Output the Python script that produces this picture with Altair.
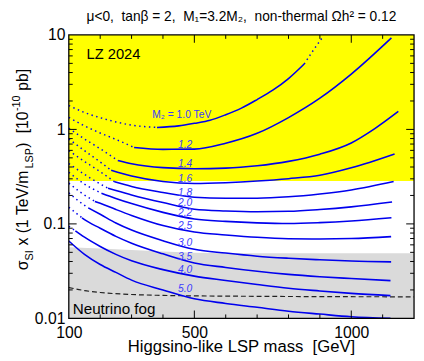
import altair as alt
import pandas as pd

FONT = "Liberation Sans"
BLUE = "#0000ee"
LABEL_BLUE = "#3a3aff"
YELLOW = "#ffff00"
GREY = "#dadada"
W, H = 352, 289

# ---------------- data ----------------
x_domain = [100, 1200]
y_domain = [0.01, 10]
x_tick_labels = [100, 500, 1000]
y_tick_labels = [0.01, 0.1, 1, 10]
x_major_ticks = [500, 1000]
x_minor_ticks = [200, 300, 400, 600, 700, 800, 900, 1100]
y_major_ticks = [0.01, 0.1, 1, 10]
y_minor_ticks = [k * 10.0 ** e for e in (-2, -1, 0) for k in range(2, 10)]

lz_floor = 0.284                      # LZ 2024 excluded above this
fog_mass = [100, 200, 300, 400, 500, 600, 1200]
fog_sigma = [0.0565, 0.055, 0.053, 0.051, 0.0495, 0.049, 0.049]
floor_mass = [100, 150, 200, 300, 400, 600, 1200]
floor_sigma = [0.0212, 0.0197, 0.0188, 0.0179, 0.0175, 0.0172, 0.0169]

m2_names = ["1.0", "1.2", "1.4", "1.6", "1.8", "2.0", "2.2", "2.5", "3.0", "3.5", "4.0", "5.0"]

dotted = {
    "1.0": [([100, 150, 200, 250, 300, 381], [1.79, 1.51, 1.33, 1.20, 1.11, 1.05]),
            ([850, 878, 907], [4.92, 6.8, 9.3])],
    "1.2": [([100, 150, 200, 250, 308], [1.34, 1.09, 0.916, 0.784, 0.644])],
    "1.4": [([100, 150, 200, 256], [1.03, 0.792, 0.624, 0.469])],
    "1.6": [([100, 150, 200, 235], [0.792, 0.596, 0.452, 0.369])],
    "1.8": [([100, 150, 200, 246], [0.596, 0.458, 0.357, 0.279])],
    "2.0": [([100, 150, 225], [0.436, 0.334, 0.238])],
    "2.2": [([100, 150, 204], [0.352, 0.264, 0.2113])],
    "2.5": [([100, 140, 183], [0.270, 0.213, 0.173])],
    "3.0": [([100, 130, 162], [0.213, 0.176, 0.1476])],
    "3.5": [([100, 142], [0.15, 0.116])],
    "4.0": [([100, 121], [0.0944, 0.0844])],
    "5.0": [],
}
solid = {
    "1.0": ([381, 450, 500, 550, 600, 650, 700, 750, 800, 850],
            [1.05, 1.09, 1.16, 1.25, 1.43, 1.68, 2.07, 2.6, 3.45, 4.92]),
    "1.2": ([308, 400, 500, 600, 700, 800, 900, 1000, 1128],
            [0.644, 0.615, 0.619, 0.714, 0.909, 1.334, 2.14, 3.85, 9.3]),
    "1.4": ([256, 300, 400, 500, 600, 700, 800, 900, 1000, 1075, 1150],
            [0.469, 0.433, 0.394, 0.384, 0.389, 0.412, 0.459, 0.547, 0.719, 1.02, 1.55]),
    "1.6": ([235, 300, 400, 500, 600, 700, 800, 900, 1000, 1138],
            [0.369, 0.321, 0.281, 0.268, 0.273, 0.284, 0.301, 0.327, 0.392, 0.55]),
    "1.8": ([246, 300, 400, 500, 600, 700, 800, 900, 1000, 1135],
            [0.279, 0.249, 0.215, 0.1914, 0.1866, 0.187, 0.1935, 0.2074, 0.2286, 0.281]),
    "2.0": ([225, 250, 300, 400, 500, 600, 700, 800, 900, 1000, 1130],
            [0.238, 0.225, 0.202, 0.168, 0.1432, 0.1371, 0.1345, 0.1358, 0.1419, 0.1514, 0.1702]),
    "2.2": ([204, 250, 300, 400, 500, 600, 700, 800, 900, 1000, 1128],
            [0.2113, 0.186, 0.164, 0.1324, 0.1127, 0.1064, 0.1026, 0.1009, 0.1031, 0.1074, 0.1161]),
    "2.5": ([183, 200, 250, 300, 400, 500, 600, 700, 800, 900, 1000, 1127],
            [0.173, 0.165, 0.142, 0.123, 0.0961, 0.0820, 0.0764, 0.0721, 0.0697, 0.0692, 0.0699, 0.0733]),
    "3.0": ([162, 200, 250, 300, 400, 500, 600, 700, 800, 900, 1000, 1127],
            [0.1476, 0.1265, 0.1023, 0.0861, 0.0664, 0.0538, 0.0491, 0.0455, 0.0433, 0.0417, 0.0404, 0.0396]),
    "3.5": ([142, 150, 200, 250, 300, 400, 500, 600, 700, 800, 900, 1000, 1125],
            [0.116, 0.111, 0.090, 0.0738, 0.0625, 0.0482, 0.0386, 0.0346, 0.0315, 0.0292, 0.0276, 0.0264, 0.0251]),
    "4.0": ([121, 150, 200, 250, 300, 400, 500, 600, 700, 800, 900, 1000, 1125],
            [0.0844, 0.0723, 0.0577, 0.0476, 0.0407, 0.0328, 0.0280, 0.0252, 0.0228, 0.0208, 0.0195, 0.0184, 0.0174]),
    "5.0": ([100, 150, 200, 250, 300, 400, 500, 600, 700, 800, 900, 1000, 1125],
            [0.0659, 0.0476, 0.0372, 0.0307, 0.0254, 0.0200, 0.0161, 0.0144, 0.0131, 0.0119, 0.0111, 0.0104, 0.0100]),
}

# label anchors (mass, sigma) of the curve labels
label_mass = [366] + [448] * 11
label_sigma = [1.31, 0.64, 0.401, 0.281, 0.196, 0.154, 0.121, 0.0889, 0.0578, 0.0414, 0.0303, 0.0188]
label_text = ["M\u2082 = 1.0 TeV"] + m2_names[1:]

# ---------------- frames ----------------
rows_s, rows_d = [], []
for n in m2_names:
    ms, vs = solid[n]
    for i, (m, v) in enumerate(zip(ms, vs)):
        rows_s.append({"seg": n, "i": i, "m": m, "v": v})
    for k, (ms, vs) in enumerate(dotted[n]):
        for i, (m, v) in enumerate(zip(ms, vs)):
            rows_d.append({"seg": f"{n}-{k}", "i": i, "m": m, "v": v})
df_s = pd.DataFrame(rows_s)
df_d = pd.DataFrame(rows_d)

xs = alt.Scale(domain=x_domain, nice=False, zero=False)
ys = alt.Scale(type="log", domain=y_domain, nice=False)
X = alt.X("m:Q", scale=xs, axis=alt.Axis(values=x_tick_labels, title=None, ticks=False, domain=False,
                                         grid=False, labelFontSize=16, labelFont=FONT, labelColor="black",
                                         labelPadding=6, labelFlush=False, labelOverlap=False, format="d"))
Y = alt.Y("v:Q", scale=ys, axis=alt.Axis(values=y_tick_labels, title=None, ticks=False, domain=False,
                                         grid=False, labelFontSize=16, labelFont=FONT, labelColor="black",
                                         labelPadding=4, labelFlush=False, labelOverlap=False, format="~g"))

yellow = alt.Chart(pd.DataFrame({"m": [x_domain[0]], "m2": [x_domain[1]], "v": [lz_floor], "v2": [y_domain[1]]})
                   ).mark_rect(color=YELLOW).encode(x=X, x2="m2:Q", y=Y, y2="v2:Q")
fog = alt.Chart(pd.DataFrame({"m": fog_mass, "v": fog_sigma, "v0": [y_domain[0]] * len(fog_mass)})
                ).mark_area(color=GREY).encode(x=X, y=Y, y2="v0:Q")
floor_line = alt.Chart(pd.DataFrame({"m": floor_mass, "v": floor_sigma})).mark_line(
    color="#222222", strokeWidth=1.2, strokeDash=[5, 3], interpolate="monotone").encode(x=X, y=Y)

solid_lines = alt.Chart(df_s).mark_line(color=BLUE, strokeWidth=1.6, clip=True, interpolate="monotone").encode(
    x=X, y=Y, detail="seg:N", order="i:Q")
dotted_lines = alt.Chart(df_d).mark_line(color=BLUE, strokeWidth=1.5, strokeDash=[1.5, 3.5], clip=True,
                                         interpolate="monotone").encode(x=X, y=Y, detail="seg:N", order="i:Q")

lab_df = pd.DataFrame({"m": label_mass, "v": label_sigma, "t": label_text})
labels_m2 = alt.Chart(lab_df.iloc[:1]).mark_text(font=FONT, fontSize=10.5, color=LABEL_BLUE, align="left",
                                                 baseline="alphabetic").encode(x=X, y=Y, text="t:N")
labels_num = alt.Chart(lab_df.iloc[1:]).mark_text(font=FONT, fontSize=10.5, fontStyle="italic", color=LABEL_BLUE,
                                                  align="left", baseline="alphabetic").encode(x=X, y=Y, text="t:N")


def ticks(vals, axis, side, length):
    base = alt.Chart(pd.DataFrame({axis: vals})).mark_rule(color="black", strokeWidth=1)
    if axis == "v":
        x0 = 0 if side == "left" else W
        x1 = length if side == "left" else W - length
        return base.encode(y=Y, x=alt.value(x0), x2=alt.value(x1))
    y0 = H if side == "bottom" else 0
    y1 = H - length if side == "bottom" else length
    return base.encode(x=X, y=alt.value(y0), y2=alt.value(y1))


tick_layers = []
for side in ("left", "right"):
    tick_layers += [ticks(y_major_ticks[1:-1], "v", side, 8), ticks(y_minor_ticks, "v", side, 4)]
for side in ("bottom", "top"):
    tick_layers += [ticks(x_major_ticks, "m", side, 8), ticks(x_minor_ticks, "m", side, 4)]

frame = alt.Chart(pd.DataFrame({"a": [0]})).mark_rect(fill=None, stroke="black", strokeWidth=1.3).encode(
    x=alt.value(0), x2=alt.value(W), y=alt.value(0), y2=alt.value(H))


def txt(s, x, y, size, angle=0, align="left", color="black"):
    kw = dict(font=FONT, fontSize=size, align=align, baseline="alphabetic", color=color)
    if angle:
        kw["angle"] = angle
    return alt.Chart(pd.DataFrame({"t": [s]})).mark_text(**kw).encode(
        text="t:N", x=alt.value(x), y=alt.value(y))


NB = "\u00a0"
title = txt(f"\u03bc<0,{NB}{NB}tan\u03b2 = 2,{NB}{NB}M\u2081=3.2M\u2082,{NB}{NB}non-thermal \u03a9h\u00b2 = 0.12",
            176, -13.7, 14, align="center")
lz_text = txt("LZ 2024", 18, 25, 15)
fog_text = txt("Neutrino fog", 4, 285, 15.5)
xtitle = txt(f"Higgsino-like LSP mass{NB}{NB}[GeV]", 176, 323.5, 17, align="center")

# y title assembled from pieces (rotated), with sub/superscripts.
# leading blanks are not drawn by the renderer, so they are turned into offsets.
AW = {" ": 278, "x": 500, "(": 333, ")": 333, "1": 556, "0": 556, "T": 611, "e": 556, "V": 667,
      "/": 278, "m": 833, "L": 556, "S": 667, "P": 667, "I": 278, "[": 278, "]": 278, "-": 333,
      "p": 556, "b": 556, "\u03c3": 600}
F, f = 16, 11
pieces = [("\u03c3", "n", 0), ("SI", "sub", 0), ("x (1 TeV/m", "n", 1), ("LSP", "sub", 0),
          (")", "n", 0), ("[10", "n", 2), ("-10", "sup", 0), ("pb]", "n", 1)]
ytitle_layers = []
ypos = 240.0
base_x = -41.5
for s, kind, lead in pieces:
    size = F if kind == "n" else f
    dx = {"n": 0, "sub": 4.5, "sup": -8}[kind]
    ypos -= lead * 278 * size / 1000
    ytitle_layers.append(txt(s.replace(" ", NB), base_x + dx, ypos, size, angle=270))
    ypos -= sum(AW.get(c, 556) for c in s) * size / 1000 + 0.4

chart = alt.layer(
    yellow, fog, floor_line, solid_lines, dotted_lines, labels_m2, labels_num,
    *tick_layers, frame, title, lz_text, fog_text, xtitle, *ytitle_layers
).properties(
    width=W, height=H,
    autosize=alt.AutoSizeParams(type="none"),
    padding={"left": 62, "top": 24, "right": 2, "bottom": 40},
    background="white",
).configure_view(strokeWidth=0)

chart.save("out.html", embed_options={"renderer": "svg", "actions": False})
